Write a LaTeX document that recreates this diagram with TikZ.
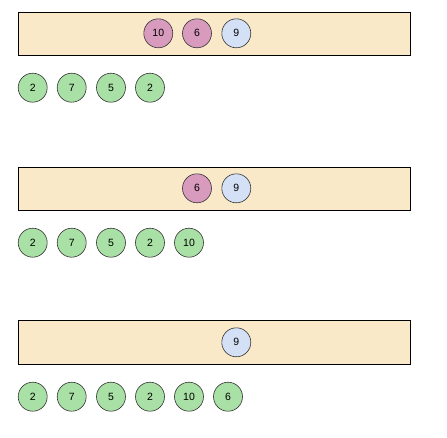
\documentclass[tikz,border=0pt]{standalone}
\usepackage{fontspec}
\setmainfont{Liberation Sans}
\definecolor{boxfill}{HTML}{FAE9C9}
\definecolor{pinkfill}{HTML}{D89BBE}
\definecolor{bluefill}{HTML}{D4E0F5}
\definecolor{greenfill}{HTML}{A9E0A5}
\definecolor{linec}{HTML}{333333}
\begin{document}
\begin{tikzpicture}[x=1pt,y=-1pt,
  bar/.style={draw=black,fill=boxfill,line width=0.8pt,minimum width=392pt,minimum height=43.6pt,inner sep=0pt,anchor=north west},
  ball/.style={circle,draw=linec,line width=0.6pt,minimum size=29pt,inner sep=0pt,font=\fontsize{10.5}{12}\selectfont},
  pinkball/.style={ball,fill=pinkfill},
  blueball/.style={ball,fill=bluefill},
  greenball/.style={ball,fill=greenfill}]
\useasboundingbox (0,0) rectangle (447,437);
% row 1
\node[bar] (b1) at (18.3,11.7) {};
\node[pinkball] (p1a) at (158.3,33.3) {10};
\node[pinkball] (p1b) at (197,33.3) {6};
\node[blueball] (q1) at (236.3,33.3) {9};
\node[greenball] (g1a) at (32.7,87.7) {2};
\node[greenball] (g1b) at (71.7,87.7) {7};
\node[greenball] (g1c) at (111,87.7) {5};
\node[greenball] (g1d) at (150,87.7) {2};
% row 2
\node[bar] (b2) at (18.3,166.7) {};
\node[pinkball] (p2b) at (197,188.3) {6};
\node[blueball] (q2) at (236.3,188.3) {9};
\node[greenball] (g2a) at (32.7,242.7) {2};
\node[greenball] (g2b) at (71.7,242.7) {7};
\node[greenball] (g2c) at (111,242.7) {5};
\node[greenball] (g2d) at (150,242.7) {2};
\node[greenball] (g2e) at (189,242.7) {10};
% row 3
\node[bar] (b3) at (18.3,320.3) {};
\node[blueball] (q3) at (236.3,342.3) {9};
\node[greenball] (g3a) at (32.7,396.7) {2};
\node[greenball] (g3b) at (71.7,396.7) {7};
\node[greenball] (g3c) at (111,396.7) {5};
\node[greenball] (g3d) at (150,396.7) {2};
\node[greenball] (g3e) at (189,396.7) {10};
\node[greenball] (g3f) at (228,396.7) {6};
\end{tikzpicture}
\end{document}
